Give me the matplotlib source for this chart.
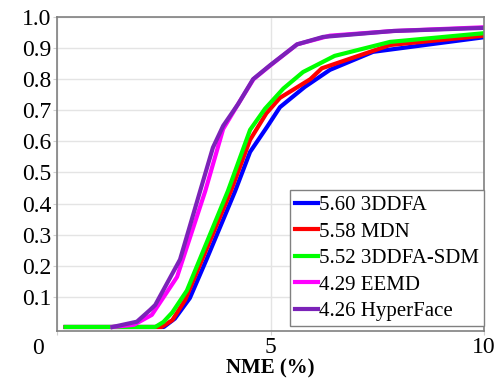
import matplotlib
matplotlib.use("Agg")
import matplotlib.pyplot as plt

plt.rcParams['font.family'] = ['Liberation Serif', 'DejaVu Serif']

labels = ["5.60 3DDFA", "5.58 MDN", "5.52 3DDFA-SDM", "4.29 EEMD", "4.26 HyperFace"]
colors = ["#0000ff", "#ff0000", "#00ff00", "#ff00ff", "#7b22b8"]

x_3ddfa = [0.2, 2.5, 2.76, 3.11, 3.5, 4.17, 4.52, 4.92, 5.22, 5.8, 6.39, 7.4, 10.0]
y_3ddfa = [0.003, 0.003, 0.03, 0.096, 0.22, 0.44, 0.566, 0.647, 0.71, 0.775, 0.83, 0.888, 0.935]

x_mdn = [0.2, 2.45, 2.7, 3.0, 4.07, 4.52, 4.9, 5.22, 5.93, 6.2, 7.8, 10.0]
y_mdn = [0.003, 0.003, 0.025, 0.09, 0.44, 0.605, 0.69, 0.74, 0.80, 0.835, 0.91, 0.94]

x_sdm = [0.2, 2.3, 2.49, 2.7, 3.04, 4.0, 4.52, 4.87, 5.3, 5.76, 6.5, 7.8, 10.0]
y_sdm = [0.003, 0.003, 0.019, 0.05, 0.12, 0.44, 0.637, 0.705, 0.77, 0.823, 0.875, 0.92, 0.948]

x_eemd = [1.3, 1.8, 2.22, 2.81, 3.47, 3.89, 4.24, 4.6, 5.0, 5.62, 6.39, 7.87, 10.0]
y_eemd = [0.003, 0.01, 0.042, 0.164, 0.44, 0.64, 0.72, 0.8, 0.845, 0.912, 0.94, 0.955, 0.967]

x_hyper = [1.3, 1.87, 2.18, 2.30, 2.88, 3.35, 3.65, 3.89, 4.24, 4.59, 4.99, 5.62, 6.23, 7.87, 10.0]
y_hyper = [0.003, 0.02, 0.058, 0.074, 0.22, 0.44, 0.58, 0.65, 0.72, 0.8, 0.845, 0.912, 0.936, 0.955, 0.965]

xs = [x_3ddfa, x_mdn, x_sdm, x_eemd, x_hyper]
ys = [y_3ddfa, y_mdn, y_sdm, y_eemd, y_hyper]

yticks = [0.1, 0.2, 0.3, 0.4, 0.5, 0.6, 0.7, 0.8, 0.9, 1.0]
ytick_labels = ["0.1", "0.2", "0.3", "0.4", "0.5", "0.6", "0.7", "0.8", "0.9", "1.0"]
xticks = [0, 5, 10]
xtick_labels = ["", "5", "10"]

fig = plt.figure(figsize=(4.96, 3.79), dpi=100)
ax = fig.add_axes([0.115, 0.1266, 0.861, 0.8285])

for x, y, c, lab in zip(xs, ys, colors, labels):
    ax.plot(x, y, color=c, lw=3.0, label=lab)

ax.set_xlim(0, 10)
ax.set_ylim(-0.01, 1.0)
ax.set_yticks(yticks)
ax.set_yticklabels(ytick_labels)
ax.set_xticks(xticks)
ax.set_xticklabels(xtick_labels)
ax.grid(True, color="#e4e4e4", lw=1)
ax.set_axisbelow(True)
ax.tick_params(axis='both', length=3, color="#d0d0d0", labelsize=17, pad=1)
for s in ax.spines.values():
    s.set_color("#808080")
    s.set_linewidth(1.2)

ax.text(-0.045, -0.055, "0", transform=ax.transAxes, fontsize=17, ha='center', va='center')
ax.set_xlabel("NME (%)", fontsize=15, fontweight='bold', labelpad=1)

leg = ax.legend(loc='lower right', bbox_to_anchor=(1.0, 0.015), fontsize=15,
                handlelength=1.1, handletextpad=0.05, labelspacing=0.33,
                borderaxespad=0, borderpad=0.25, fancybox=False, framealpha=1)
leg.get_frame().set_edgecolor("#808080")
leg.get_frame().set_linewidth(1.0)

fig.savefig("out.png", dpi=100)
